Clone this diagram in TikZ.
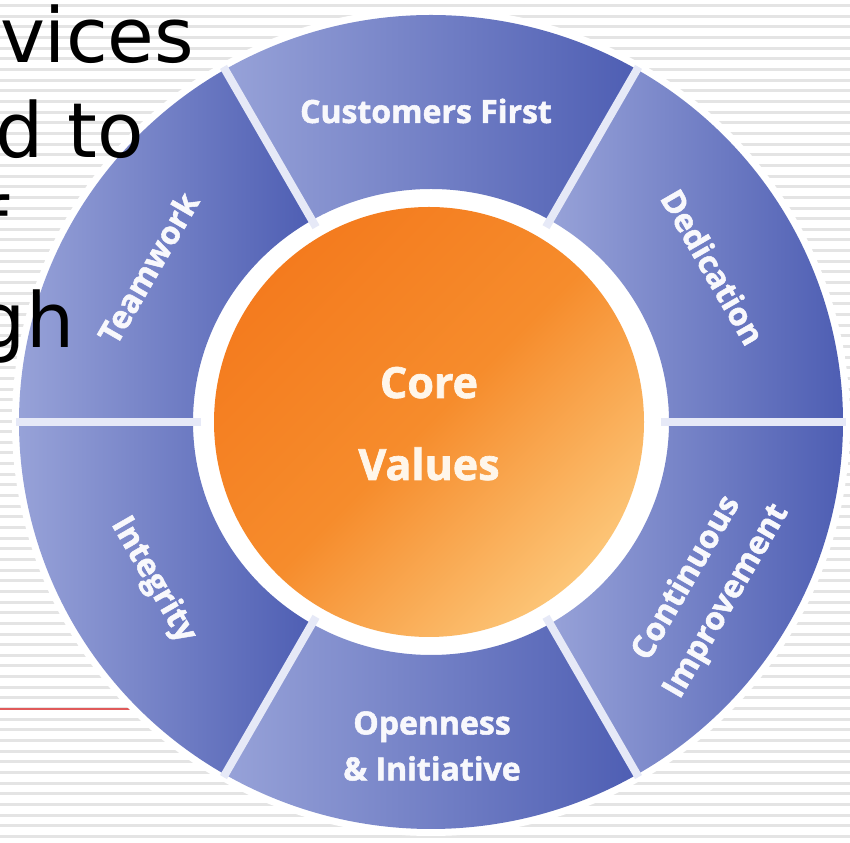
\documentclass[tikz,border=0pt]{standalone}
\usepackage{fontspec}
\newfontfamily\slidefont{DejaVu Sans}
\newfontfamily\wheelfont[BoldFeatures={FakeBold=1.6}]{Open Sans}
\definecolor{stripecol}{HTML}{E4E4E4}
\definecolor{segL}{HTML}{97A2D8}
\definecolor{segR}{HTML}{4E5EB3}
\definecolor{gapcol}{HTML}{E6E9F7}
\definecolor{orgD}{HTML}{F47B1E}
\definecolor{orgM}{HTML}{F68C2C}
\definecolor{orgL}{HTML}{FCC577}
\definecolor{redrule}{HTML}{E05A5A}
\definecolor{labelcol}{HTML}{F8F8FC}
\definecolor{corecol}{HTML}{FFF6EA}
\begin{document}
\begin{tikzpicture}[x=1pt,y=1pt,
  stripeline/.style={draw=stripecol,line width=3pt},
  slidetext/.style={font=\slidefont\fontsize{76}{94}\selectfont, anchor=base west, inner sep=0pt, outer sep=0pt, text=black},
  wheelseg/.style={left color=segL, right color=segR, draw=none},
  gapline/.style={draw=gapcol, line width=8pt},
  seglabel/.style={font=\wheelfont\bfseries\fontsize{32}{46}\selectfont, text=labelcol, align=center, inner sep=0pt},
  corelabel/.style={font=\wheelfont\bfseries\fontsize{43}{82}\selectfont, text=corecol, anchor=base, inner sep=0pt}]
\useasboundingbox (0,0) rectangle (850,842);
\clip (0,0) rectangle (850,842);
\fill[white] (0,0) rectangle (850,842);
\foreach \n in {0,...,78} \draw[stripeline] (0,{836.3-10.65*\n}) -- (850,{836.3-10.65*\n});
\draw[draw=redrule, line width=1.5pt] (0,133) -- (220,133);
% wheel
\begin{scope}[shift={(431,420)}]
  \fill[white] (0,0) ellipse [x radius=419, y radius=414];
  \foreach \a/\b in {60/120, 0/60, -60/0, 240/300, 180/240, 120/180}
    \shade[wheelseg] (\a:412 and 407) arc[start angle=\a, end angle=\b, x radius=412, y radius=407]
      -- (\b:238 and 233) arc[start angle=\b, end angle=\a, x radius=238, y radius=233] -- cycle;
  \foreach \a in {0,60,...,300} \draw[gapline] (\a:230 and 225) -- (\a:415 and 410);
\end{scope}
\shade[top color=orgD, bottom color=orgL, middle color=orgM, shading angle=45] (429,420) circle[radius=215];
% labels
\node[corelabel] (core) at (429,444) {Core};
\node[corelabel] (values) at (429,362) {Values};
\node[seglabel, anchor=base] (cust) at (426,719) {Customers First};
\node[seglabel, rotate=-60] (dedi) at (713,575) {Dedication};
\node[seglabel, rotate=60] (cont) at (707,252) {Continuous\\Improvement};
\node[seglabel] (open) at (432,96) {Openness\\\& Initiative};
\node[seglabel, rotate=-60] (integ) at (153,262) {Integrity};
\node[seglabel, rotate=60] (team) at (148,574) {Teamwork};
% slide text
\node[slidetext] (t1) at (0,779) {vices};
\node[slidetext] (t2) at (-5,684) {d to};
\node[slidetext] (t3) at (-18,589) {f};
\node[slidetext] (t4) at (-22,494) {gh};
\end{tikzpicture}
\end{document}
